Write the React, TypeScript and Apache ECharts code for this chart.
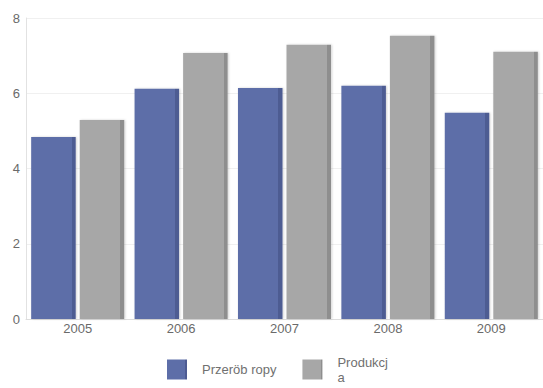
import React, { useEffect, useRef } from "react";
import * as echarts from "echarts";

const years = ["2005", "2006", "2007", "2008", "2009"];
const przerobRopy = [4.84, 6.12, 6.14, 6.2, 5.48];
const produkcja = [5.29, 7.07, 7.29, 7.53, 7.1];
const yTicks = [0, 2, 4, 6, 8];

const FONT = "'Liberation Sans', Arial, sans-serif";

// flat front face with a darker strip on the right, giving the bars a 3D edge
const faceGradient = (front: string, side: string) =>
  new echarts.graphic.LinearGradient(0, 0, 1, 0, [
    { offset: 0, color: front },
    { offset: 0.91, color: front },
    { offset: 0.91, color: side },
    { offset: 1, color: side },
  ]);

export default function App() {
  const ref = useRef<HTMLDivElement>(null);

  useEffect(() => {
    if (!ref.current) return;
    const chart = echarts.init(ref.current, undefined, { renderer: "svg" });
    chart.setOption({
      animation: false,
      backgroundColor: "#ffffff",
      grid: { left: 26, right: 0, top: 18, bottom: 69 },
      xAxis: {
        type: "category",
        data: years,
        axisTick: { show: false },
        axisLine: { lineStyle: { color: "#dddddd", width: 1 } },
        axisLabel: { color: "#6a6a6a", fontSize: 13, fontFamily: FONT, margin: 3 },
      },
      yAxis: {
        type: "value",
        min: yTicks[0],
        max: yTicks[yTicks.length - 1],
        interval: 2,
        axisLine: { show: true, lineStyle: { color: "#e2e2e2" } },
        axisTick: { show: false },
        splitLine: { lineStyle: { color: "#f0f0f0" } },
        axisLabel: { color: "#6a6a6a", fontSize: 13, fontFamily: FONT, margin: 6 },
      },
      legend: {
        left: 167,
        top: 347,
        padding: 0,
        itemWidth: 20,
        itemHeight: 20,
        itemGap: 26,
        icon: "rect",
        textStyle: { color: "#707070", fontSize: 13, fontFamily: FONT, lineHeight: 15, padding: [0, 0, 0, 10] },
        formatter: (name: string) => (name === "Produkcja" ? "Produkcj\na" : name),
        data: [
          { name: "Przeröb ropy" },
          { name: "Produkcja", textStyle: { padding: [15, 0, 0, 10], lineHeight: 15 } },
        ],
      },
      series: [
        {
          name: "Przeröb ropy",
          type: "bar",
          data: przerobRopy,
          color: "#5d6ea8",
          barCategoryGap: "10%",
          barGap: "9%",
          itemStyle: {
            color: faceGradient("#5d6ea8", "#4d5b92"),
            shadowColor: "rgba(0,0,0,0.18)",
            shadowBlur: 2,
            shadowOffsetX: 1,
          },
        },
        {
          name: "Produkcja",
          type: "bar",
          data: produkcja,
          color: "#a7a7a7",
          barCategoryGap: "10%",
          barGap: "9%",
          itemStyle: {
            color: faceGradient("#a7a7a7", "#8e8e8e"),
            shadowColor: "rgba(0,0,0,0.18)",
            shadowBlur: 2,
            shadowOffsetX: 1,
          },
        },
      ],
    });
    return () => chart.dispose();
  }, []);

  return <div ref={ref} style={{ width: 543, height: 388, position: "absolute", left: 0, top: 0 }} />;
}
